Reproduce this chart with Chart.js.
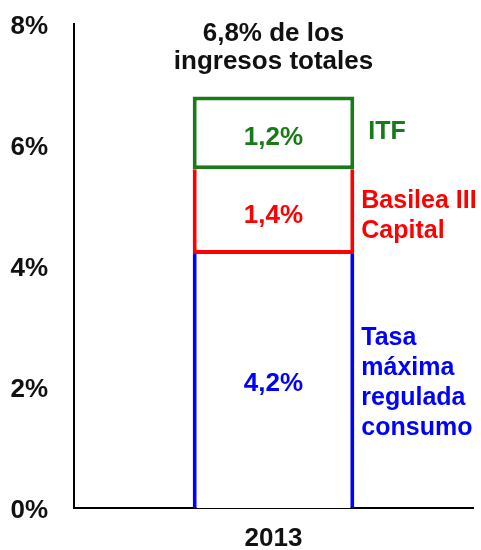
<!DOCTYPE html>
<html>
<head>
<meta charset="utf-8">
<script src="https://cdn.jsdelivr.net/npm/chart.js@4/dist/chart.umd.min.js"></script>
<style>
  html, body { margin: 0; padding: 0; background: #ffffff; }
  #wrap { width: 481px; height: 550px; }
</style>
</head>
<body>
<div id="wrap"><canvas id="c" width="481" height="550"></canvas></div>
<script>
const categories = ['2013'];
const tasaMaxima = [4.2];
const basilea = [1.4];
const itf = [1.2];
const seriesLabels = [['Tasa', 'máxima', 'regulada', 'consumo'], ['Basilea III', 'Capital'], ['ITF']];
const seriesColors = ['#0000ff', '#ff0000', '#1a7a1a'];
const yTicks = [0, 2, 4, 6, 8];
const totalLabel = ['6,8% de los', 'ingresos totales'];

const FONT = "'Liberation Sans', Arial, sans-serif";
const fmt = v => v.toFixed(1).replace('.', ',') + '%';

const labelsPlugin = {
  id: 'labelsPlugin',
  afterDatasetsDraw(chart) {
    const ctx = chart.ctx;
    ctx.save();
    ctx.textBaseline = 'middle';
    const sideShift = [2, 5, -1];
    const valueShift = [3, 4, 5];
    chart.data.datasets.forEach((ds, i) => {
      const bar = chart.getDatasetMeta(i).data[0];
      const cy = (bar.y + bar.base) / 2;
      ctx.font = 'bold 26px ' + FONT;
      ctx.fillStyle = seriesColors[i];
      ctx.textAlign = 'center';
      ctx.fillText(fmt(ds.data[0]), bar.x, cy + valueShift[i]);
      ctx.font = 'bold 25px ' + FONT;
      ctx.textAlign = 'left';
      const lines = seriesLabels[i];
      const lh = 30;
      const x0 = bar.x + bar.width / 2 + (i === 2 ? 14 : 7);
      lines.forEach((t, k) => {
        ctx.fillText(t, x0, cy + sideShift[i] + (k - (lines.length - 1) / 2) * lh);
      });
    });
    const topBar = chart.getDatasetMeta(2).data[0];
    ctx.font = 'bold 26px ' + FONT;
    ctx.fillStyle = '#111111';
    ctx.textAlign = 'center';
    ctx.fillText(totalLabel[0], topBar.x, topBar.y - 63);
    ctx.fillText(totalLabel[1], topBar.x, topBar.y - 35);
    ctx.restore();
  }
};

new Chart(document.getElementById('c'), {
  type: 'bar',
  data: {
    labels: categories,
    datasets: [
      { label: seriesLabels[0].join(' '), data: tasaMaxima, backgroundColor: '#ffffff', borderColor: seriesColors[0],
        borderWidth: { left: 4, right: 4, top: 0, bottom: 0 }, borderSkipped: false },
      { label: seriesLabels[1].join(' '), data: basilea, backgroundColor: '#ffffff', borderColor: seriesColors[1],
        borderWidth: { left: 4, right: 4, top: 0, bottom: 4 }, borderSkipped: false },
      { label: seriesLabels[2].join(' '), data: itf, backgroundColor: '#ffffff', borderColor: seriesColors[2],
        borderWidth: { left: 4, right: 4, top: 4, bottom: 4 }, borderSkipped: false }
    ]
  },
  options: {
    responsive: false,
    animation: false,
    devicePixelRatio: 1,
    layout: { padding: { top: 24, right: 8, left: 0, bottom: 0 } },
    plugins: { legend: { display: false }, tooltip: { enabled: false }, title: { display: false } },
    datasets: { bar: { barPercentage: 0.405, categoryPercentage: 1 } },
    scales: {
      x: {
        stacked: true,
        grid: { display: false, drawTicks: false },
        border: { display: true, color: '#000000', width: 2 },
        ticks: { color: '#111111', font: { family: FONT, size: 26, weight: 'bold' }, padding: 15 },
        afterFit(scale) { scale.height = 42; scale.paddingLeft = 0; scale.paddingRight = 0; }
      },
      y: {
        stacked: true,
        min: yTicks[0],
        max: yTicks[yTicks.length - 1],
        afterBuildTicks(scale) { scale.ticks = yTicks.map(v => ({ value: v })); },
        grid: { display: false, drawTicks: false },
        border: { display: true, color: '#000000', width: 2 },
        ticks: { color: '#111111', font: { family: FONT, size: 26, weight: 'bold' }, padding: 26,
          labelOffset: 3, callback: v => v + '%' },
        afterFit(scale) { scale.width = 74; scale.paddingTop = 0; scale.paddingBottom = 0; }
      }
    }
  },
  plugins: [labelsPlugin]
});
</script>
</body>
</html>
